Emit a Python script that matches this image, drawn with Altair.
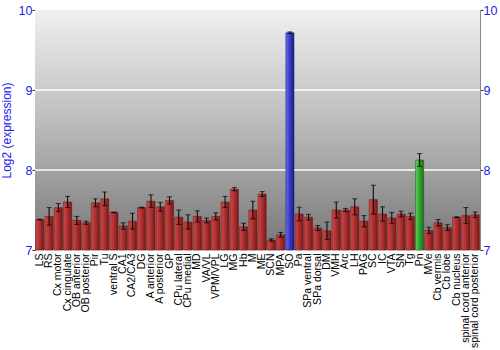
import altair as alt
import pandas as pd

regions = ["LS", "RS", "Cx motor", "Cx cingulate", "OB anterior", "OB posterior", "Pir", "Tu",
           "ventral S", "CA1", "CA2/CA3", "DG", "A anterior", "A posterior", "GP", "CPu lateral",
           "CPu medial", "MD", "VA/VL", "VPM/VPL", "LG", "MG", "Hb", "M", "ME", "SCN", "MPA", "SO",
           "Pa", "SPa ventral", "SPa dorsal", "DM", "VMH", "Arc", "LH", "PAG", "SC", "IC", "VTA",
           "SN", "Tg", "Pn", "MVe", "Cb vermis", "Cb lobe", "Cb nucleus", "spinal cord anterior",
           "spinal cord posterior"]
expression = [7.38, 7.42, 7.53, 7.60, 7.37, 7.34, 7.59, 7.64,
              7.47, 7.30, 7.36, 7.53, 7.61, 7.54, 7.62, 7.41,
              7.35, 7.42, 7.37, 7.42, 7.60, 7.76, 7.29, 7.50, 7.70, 7.125, 7.19, 9.716,
              7.45, 7.41, 7.275, 7.24, 7.50, 7.50, 7.54, 7.36, 7.63, 7.45, 7.40,
              7.45, 7.42, 8.125, 7.245, 7.34, 7.28, 7.41, 7.43,
              7.44]
error = [0.005, 0.11, 0.05, 0.07, 0.05, 0.02, 0.05, 0.085,
         0.005, 0.04, 0.10, 0.005, 0.08, 0.055, 0.045, 0.09,
         0.09, 0.07, 0.03, 0.045, 0.07, 0.02, 0.045, 0.11, 0.03, 0.015, 0.03, 0.01,
         0.085, 0.035, 0.03, 0.11, 0.10, 0.02, 0.10, 0.07, 0.18, 0.09, 0.07,
         0.035, 0.04, 0.08, 0.04, 0.04, 0.035, 0.005, 0.10,
         0.035]
highlight = {"SO": "blue", "Pn": "green"}

df = pd.DataFrame({"region": regions, "value": expression, "err": error})
df["lo"] = df["value"] - df["err"]
df["hi"] = df["value"] + df["err"]
df["base"] = 7.0
df["group"] = [highlight.get(r, "red") for r in regions]

W, H = 445, 240
BLUE = "#1c1cf0"

yscale = alt.Scale(domain=[7, 10], zero=False, nice=False)
xenc = alt.X("region:N", sort=regions,
             scale=alt.Scale(paddingInner=0.12, paddingOuter=0.08),
             axis=alt.Axis(title=None, labelAngle=-90, labelFontSize=10.5, labelColor="black",
                           labelFont="Liberation Sans", domain=False, ticks=False,
                           labelPadding=3, labelOverlap=False))


def grad(c0, c1, c2):
    return alt.Gradient(gradient="linear", x1=0, x2=1, y1=0, y2=0,
                        stops=[alt.GradientStop(color=c0, offset=0),
                               alt.GradientStop(color=c1, offset=0.45),
                               alt.GradientStop(color=c2, offset=1)])


fills = {
    "red": (grad("#d04848", "#b03232", "#7a1818"), "#6a1414"),
    "blue": (grad("#6a6af0", "#3c3cc8", "#1c1c88"), "#18186e"),
    "green": (grad("#60d060", "#34a834", "#1c6e1c"), "#165a16"),
}

base = alt.Chart(df)

bg = alt.Chart(pd.DataFrame({"a": [0]})).mark_rect(
    fill=alt.Gradient(gradient="linear", x1=0, x2=0, y1=0, y2=1,
                      stops=[alt.GradientStop(color="#f0f0f0", offset=0),
                             alt.GradientStop(color="#b8b8b8", offset=0.5),
                             alt.GradientStop(color="#767676", offset=1)])
).encode(x=alt.value(0), x2=alt.value(W),
         y=alt.datum(10, scale=yscale, axis=None), y2=alt.datum(7))

grid = alt.Chart(pd.DataFrame({"g": [8, 9]})).mark_rule(color="white", strokeWidth=1.5).encode(
    y=alt.Y("g:Q", scale=yscale, axis=None))

left_axis = alt.Axis(title="Log2 (expression)", titleColor=BLUE, titleFontSize=12,
                     titleFontWeight="normal", titleFont="Liberation Sans", titlePadding=5,
                     values=[7, 8, 9, 10], labelColor=BLUE, labelFontSize=12.5,
                     labelFont="Liberation Sans", domainColor="#888888", tickColor="#333333",
                     tickSize=3, grid=False, orient="left", labelPadding=0)
right_axis = alt.Axis(title=None, values=[7, 8, 9, 10], labelColor=BLUE, labelFontSize=12.5,
                      labelFont="Liberation Sans", domainColor="#888888", tickColor="#333333",
                      tickSize=3, grid=False, orient="right", labelPadding=0)

bar_layers = []
for g, (fill, stroke) in fills.items():
    ax = left_axis if g == "red" else (right_axis if g == "blue" else None)
    bar_layers.append(
        base.transform_filter(alt.datum.group == g).mark_bar(
            fill=fill, stroke=stroke, strokeWidth=0.5).encode(
            x=xenc, y=alt.Y("value:Q", scale=yscale, axis=ax), y2="base:Q")
    )

err_rule = base.mark_rule(color="black", strokeWidth=1).encode(
    x=xenc, y=alt.Y("lo:Q", scale=yscale, axis=None), y2="hi:Q")
cap_lo = base.mark_tick(color="black", size=5, thickness=1, orient="horizontal").encode(
    x=xenc, y=alt.Y("lo:Q", scale=yscale, axis=None))
cap_hi = base.mark_tick(color="black", size=5, thickness=1, orient="horizontal").encode(
    x=xenc, y=alt.Y("hi:Q", scale=yscale, axis=None))

chart = alt.layer(bg, grid, *bar_layers, err_rule, cap_lo, cap_hi).resolve_axis(
    y="independent").properties(
    width=W, height=H,
    autosize=alt.AutoSizeParams(type="none"),
    padding={"left": 35, "top": 10, "right": 20, "bottom": 100},
).configure_view(stroke=None).configure(background="white")

chart.save("out.html", embed_options={"renderer": "svg", "actions": False})
